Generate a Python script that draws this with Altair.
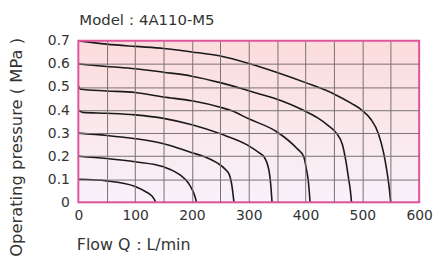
import altair as alt
import pandas as pd

# ---- data ----
flow_01 = [0, 50, 100, 118, 130, 134, 136]
pres_01 = [0.10, 0.093, 0.069, 0.047, 0.026, 0.012, 0.0]

flow_02 = [0, 50, 100, 150, 179, 194, 202, 206, 208]
pres_02 = [0.20, 0.19, 0.176, 0.154, 0.119, 0.083, 0.047, 0.02, 0.0]

flow_03 = [0, 50, 100, 150, 200, 225, 245, 258, 266, 271, 274]
pres_03 = [0.30, 0.29, 0.276, 0.254, 0.215, 0.195, 0.17, 0.145, 0.119, 0.062, 0.0]

flow_04 = [0, 8, 50, 100, 150, 200, 250, 298, 318, 327, 336, 339, 341]
pres_04 = [0.40, 0.39, 0.386, 0.379, 0.364, 0.336, 0.297, 0.248, 0.215, 0.197, 0.133, 0.07, 0.0]

flow_05 = [0, 4, 50, 100, 150, 200, 250, 269, 300, 350, 385, 397, 401, 405, 408]
pres_05 = [0.505, 0.49, 0.483, 0.476, 0.457, 0.44, 0.412, 0.398, 0.362, 0.305, 0.233, 0.197, 0.15, 0.09, 0.0]

flow_06 = [0, 50, 100, 150, 200, 250, 300, 327, 350, 375, 397, 420, 440, 455, 465, 471, 476, 479, 481]
pres_06 = [0.60, 0.589, 0.579, 0.564, 0.547, 0.519, 0.484, 0.464, 0.447, 0.423, 0.398, 0.368, 0.333, 0.298, 0.25, 0.18, 0.1, 0.05, 0.0]

flow_07 = [0, 50, 100, 150, 200, 250, 300, 350, 400, 450, 480, 500, 515, 528, 537, 543, 547, 550]
pres_07 = [0.70, 0.686, 0.676, 0.667, 0.652, 0.634, 0.602, 0.563, 0.519, 0.47, 0.43, 0.398, 0.36, 0.30, 0.22, 0.14, 0.07, 0.0]

x_ticks = [0, 50, 100, 150, 200, 250, 300, 350, 400, 450, 500, 550, 600]
y_ticks = [0, 0.1, 0.2, 0.3, 0.4, 0.5, 0.6, 0.7]

title_text = "Model：4A110-M5"
x_title = "Flow Q：L/min"
y_title = "Operating pressure ( MPa )"

series = [
    ("0.1", flow_01, pres_01), ("0.2", flow_02, pres_02), ("0.3", flow_03, pres_03),
    ("0.4", flow_04, pres_04), ("0.5", flow_05, pres_05), ("0.6", flow_06, pres_06),
    ("0.7", flow_07, pres_07),
]
rows = []
for name, fl, pr in series:
    for i, (f, p) in enumerate(zip(fl, pr)):
        rows.append({"series": name, "flow": f, "pressure": p, "idx": i})
df = pd.DataFrame(rows)

W, H = 344, 163
FONT = "DejaVu Sans"

x_enc = alt.X("flow:Q", scale=alt.Scale(domain=[0, 600], nice=False),
              axis=alt.Axis(values=x_ticks, labelExpr="datum.value % 100 == 0 ? datum.label : ''",
                            title=x_title, titleAnchor="start", titleAlign="left",
                            titleBaseline="alphabetic", titleX=-2, titleY=48,
                            titleFontSize=16, titleFontWeight="normal", titleColor="#333",
                            labelFontSize=14, labelColor="#333", labelPadding=6,
                            labelFlush=False, labelOverlap=False,
                            ticks=False, domain=False, zindex=1,
                            gridColor="#7a7070",
                            gridOpacity={"condition": {"test": "datum.value <= 0 || datum.value >= 600", "value": 0}, "value": 1}))
y_enc = alt.Y("pressure:Q", scale=alt.Scale(domain=[0, 0.7], nice=False),
              axis=alt.Axis(values=y_ticks, labelExpr="datum.value == 0 ? '0' : format(datum.value, '.1f')",
                            title=y_title, titleAnchor="middle", titleX=-54, titleY=107,
                            titleFontSize=16.5, titleFontWeight="normal", titleColor="#333",
                            labelFontSize=14, labelColor="#333", labelPadding=9,
                            labelFlush=False, labelOverlap=False,
                            ticks=False, domain=False, zindex=1,
                            gridColor="#7a7070",
                            gridOpacity={"condition": {"test": "datum.value < 0.01 || datum.value > 0.69", "value": 0}, "value": 1}))

bg = alt.Chart(alt.Data(values=[{"a": 1}])).mark_rect(
    color=alt.Gradient(gradient="linear", x1=0, x2=0, y1=0, y2=1,
                       stops=[alt.GradientStop(color="#fcdcdc", offset=0),
                              alt.GradientStop(color="#f8f2fb", offset=1)])
).encode(x=alt.value(0), x2=alt.value(W), y=alt.value(0), y2=alt.value(H))

lines = alt.Chart(df).mark_line(color="#1a1a1a", strokeWidth=1.6, interpolate="monotone").encode(
    x=x_enc, y=y_enc, detail="series:N", order="idx:Q")

border = alt.Chart(alt.Data(values=[{"a": 1}])).mark_rect(
    filled=False, stroke="#e0559b", strokeWidth=2
).encode(x=alt.value(0), x2=alt.value(W), y=alt.value(0), y2=alt.value(H))

chart = alt.layer(bg, lines, border).properties(
    width=W, height=H,
    title=alt.TitleParams(title_text, anchor="start", frame="group", fontSize=15, fontWeight="normal",
                          color="#333", font=FONT, dx=1, offset=6),
    autosize=alt.AutoSizeParams(type="none"),
    padding={"left": 71, "top": 32, "right": 14, "bottom": 54},
).configure_view(stroke=None).configure(font=FONT)

chart.save("out.html", embed_options={"renderer": "svg", "actions": False})
